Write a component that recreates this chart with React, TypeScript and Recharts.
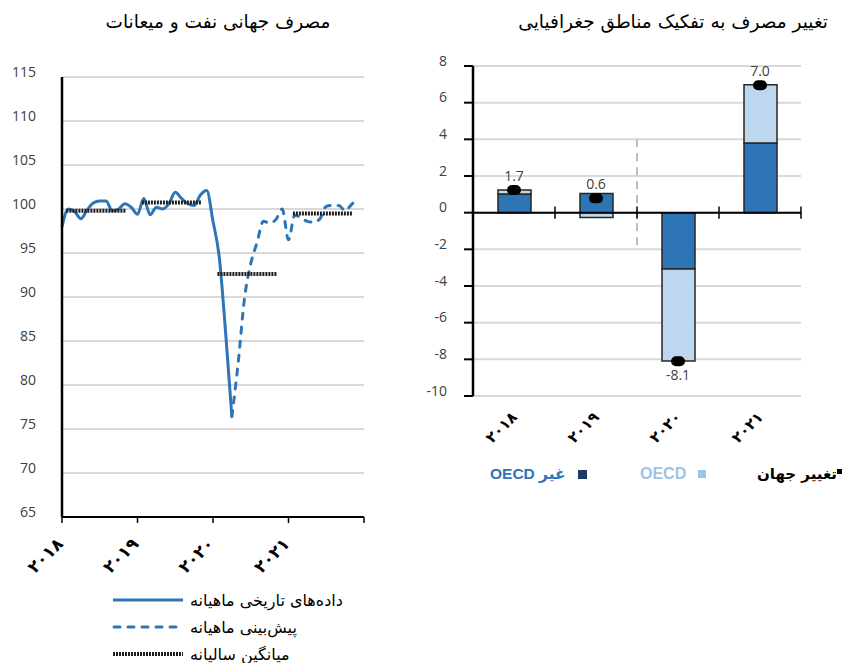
import React from 'react';
import {
  ComposedChart,
  Line,
  Bar,
  XAxis,
  YAxis,
  CartesianGrid,
  ReferenceLine,
  LabelList,
} from 'recharts';

// left panel: monthly world oil demand index
const histValues = [
  98.0, 100.0, 99.7, 98.9, 99.9, 100.7, 100.9, 100.9, 99.8, 100.0, 100.6, 100.2,
  99.4, 101.2, 99.35, 100.2, 100.0, 100.6, 101.9, 101.2, 100.6, 100.4, 101.6, 102.1,
  98.6, 94.5, 86.0, 76.4,
];
const forecastValues = [
  76.4, 82.5, 89.8, 93.8, 96.2, 98.6, 98.4, 98.8, 100.0, 96.5, 99.3, 99.0,
  98.6, 98.5, 98.9, 100.3, 100.4, 100.4, 99.8, 100.5, 101.2,
];
const forecastStart = 27;
const avgValues = [99.8, 100.75, 92.6, 99.5];
const leftYearTicks = ['۲۰۱۸', '۲۰۱۹', '۲۰۲۰', '۲۰۲۱', ''];
const leftYTicks = [65, 70, 75, 80, 85, 90, 95, 100, 105, 110, 115];

// right panel: change by region
const years = ['۲۰۱۸', '۲۰۱۹', '۲۰۲۰', '۲۰۲۱'];
const nonOecd = [1.02, 1.05, -3.07, 3.8];
const oecd = [0.22, -0.27, -5.02, 3.18];
const world = [1.24, 0.78, -8.1, 6.95];
const worldLabels = ['1.7', '0.6', '-8.1', '7.0'];
const rightYTicks = [-10, -8, -6, -4, -2, 0, 2, 4, 6, 8];

const BLUE = '#2e75b6';
const LIGHT = '#bdd7ee';
const GRID = '#d9d9d9';
const NUM_FONT = "'Open Sans', sans-serif";
const FA_FONT = "'DejaVu Sans', sans-serif";

const monthly = Array.from({ length: 48 }, (_, i) => ({
  m: i,
  hist: i < histValues.length ? histValues[i] : null,
  fcst: i >= forecastStart ? forecastValues[i - forecastStart] : null,
}));

const avgSeries = avgValues.map((v, k) => [
  { m: k * 12 + 0.7, avg: v },
  { m: k * 12 + 10.1, avg: v },
]);

const regional = years.map((y, i) => ({
  year: y,
  pos: i + 0.5,
  nonOecd: nonOecd[i],
  oecd: oecd[i],
  world: world[i],
}));

const YTick = (props: any) => {
  const { x, y, payload } = props;
  return (
    <text x={x} y={y} dy={-4} textAnchor="end" dominantBaseline="middle" fill="#404040" fontSize={14} fontFamily={NUM_FONT}>
      {payload.value}
    </text>
  );
};

const LeftXTick = (props: any) => {
  const { x, y, payload } = props;
  const label = leftYearTicks[payload.value / 12];
  return (
    <g transform={`translate(${x + 2},${y + 22})`}>
      <text transform="rotate(-45)" textAnchor="end" fill="#000" fontSize={17} fontWeight="bold" fontFamily={FA_FONT}>
        {label}
      </text>
    </g>
  );
};

const RightXTick = (props: any) => {
  const { x, y, payload } = props;
  return (
    <g transform={`translate(${x + 4},${y + 22})`}>
      <text transform="rotate(-45)" textAnchor="end" fill="#000" fontSize={15} fontWeight="bold" fontFamily={FA_FONT}>
        {payload.value}
      </text>
    </g>
  );
};

const Marker = (p: any) => (
  <rect key={`mk-${p.index}`} x={p.cx - 7} y={p.cy - 5} width={14} height={10} rx={5} fill="#000" />
);

const WorldLabel = (p: any) => {
  const { x, y, index } = p;
  const below = world[index] < 0;
  return (
    <text x={x} y={below ? y + 15 : y - 13} textAnchor="middle" dominantBaseline="middle" fill="#404040" fontSize={14} fontFamily={NUM_FONT}>
      {worldLabels[index]}
    </text>
  );
};

const legendRow = (kind: 'solid' | 'dash' | 'avg', text: string, top: number) => (
  <div key={text} style={{ position: 'absolute', left: 112, top, display: 'flex', alignItems: 'center', height: 20 }}>
    <svg width={72} height={8}>
      {kind === 'solid' && <line x1={1} y1={4} x2={71} y2={4} stroke={BLUE} strokeWidth={3} />}
      {kind === 'dash' && (
        <line x1={2} y1={4} x2={70} y2={4} stroke={BLUE} strokeWidth={3} strokeDasharray="6 8" strokeLinecap="round" />
      )}
      {kind === 'avg' && <line x1={1} y1={4} x2={71} y2={4} stroke="#1e1e1e" strokeWidth={4} strokeDasharray="2 1" />}
    </svg>
    <span dir="rtl" style={{ marginLeft: 6, fontSize: 16, fontFamily: FA_FONT, color: '#000' }}>{text}</span>
  </div>
);

export default function App() {
  return (
    <div style={{ position: 'absolute', left: 0, top: 0, width: 844, height: 663, overflow: 'hidden', background: '#fff' }}>
      <div dir="rtl" style={{ position: 'absolute', left: 0, width: 436, top: 11, textAlign: 'center', fontSize: 18.5, fontFamily: FA_FONT, color: '#000' }}>
        مصرف جهانی نفت و میعانات
      </div>
      <div dir="rtl" style={{ position: 'absolute', right: 16, top: 11, fontSize: 18.5, fontFamily: FA_FONT, color: '#000' }}>
        تغییر مصرف به تفکیک مناطق جغرافیایی
      </div>

      <div style={{ position: 'absolute', left: 0, top: 0 }}>
        <ComposedChart width={380} height={580} data={monthly} margin={{ top: 77, right: 16, bottom: 0, left: 0 }}>
          <CartesianGrid vertical={false} stroke={GRID} strokeWidth={2} />
          <XAxis
            dataKey="m"
            type="number"
            domain={[0, 48]}
            ticks={[0, 12, 24, 36, 48]}
            axisLine={{ stroke: '#000', strokeWidth: 2 }}
            tickLine={{ stroke: '#000', strokeWidth: 1.5 }}
            tickSize={6}
            tickMargin={0}
            height={63}
            tick={<LeftXTick />}
            interval={0}
          />
          <YAxis
            domain={[65, 115]}
            ticks={leftYTicks}
            width={62}
            axisLine={{ stroke: '#000', strokeWidth: 2.5 }}
            tickLine={false}
            tickSize={6}
            tickMargin={20}
            tick={<YTick />}
            interval={0}
          />
          <Line dataKey="hist" type="monotone" stroke={BLUE} strokeWidth={3} dot={false} isAnimationActive={false} />
          <Line
            dataKey="fcst"
            type="monotone"
            stroke={BLUE}
            strokeWidth={3}
            strokeDasharray="6 8"
            strokeLinecap="round"
            dot={false}
            isAnimationActive={false}
          />
          {avgSeries.map((d, k) => (
            <Line
              key={k}
              data={d}
              dataKey="avg"
              stroke="#1e1e1e"
              strokeWidth={4}
              strokeDasharray="2 1"
              dot={false}
              isAnimationActive={false}
            />
          ))}
        </ComposedChart>
      </div>

      {legendRow('solid', 'داده‌های تاریخی ماهیانه', 590)}
      {legendRow('dash', 'پیش‌بینی ماهیانه', 617)}
      {legendRow('avg', 'میانگین سالیانه', 644)}

      <div style={{ position: 'absolute', left: 420, top: 0 }}>
        <ComposedChart
          width={400}
          height={460}
          data={regional}
          stackOffset="sign"
          margin={{ top: 66, right: 19, bottom: 0, left: 0 }}
        >
          <CartesianGrid vertical={false} stroke={GRID} strokeWidth={2} />
          <XAxis dataKey="year" axisLine={false} tickLine={false} tickSize={0} tickMargin={0} height={64} tick={<RightXTick />} interval={0} />
          <XAxis xAxisId="pos" dataKey="pos" type="number" domain={[0, 4]} allowDataOverflow hide />
          <YAxis
            domain={[-10, 8]}
            ticks={rightYTicks}
            width={53}
            axisLine={{ stroke: '#000', strokeWidth: 2.5 }}
            tickLine={{ stroke: '#000', strokeWidth: 2 }}
            tickSize={9}
            tickMargin={17}
            tick={<YTick />}
            interval={0}
          />
          <ReferenceLine
            xAxisId="pos"
            segment={[{ x: 2, y: 4 }, { x: 2, y: -2 }]}
            stroke="#a6a6a6"
            strokeWidth={1.5}
            strokeDasharray="8 6"
          />
          <Bar dataKey="nonOecd" stackId="a" fill={BLUE} stroke="#262626" strokeWidth={1.5} barSize={33} isAnimationActive={false} />
          <Bar dataKey="oecd" stackId="a" fill={LIGHT} stroke="#262626" strokeWidth={1.5} barSize={33} isAnimationActive={false} />
          <ReferenceLine y={0} stroke="#000" strokeWidth={2} />
          {[1, 2, 3, 4].map((b) => (
            <ReferenceLine key={b} xAxisId="pos" segment={[{ x: b, y: -0.33 }, { x: b, y: 0.33 }]} stroke="#000" strokeWidth={1.5} />
          ))}
          <Line dataKey="world" stroke="none" dot={Marker} activeDot={false} isAnimationActive={false}>
            <LabelList dataKey="world" content={<WorldLabel />} />
          </Line>
        </ComposedChart>
      </div>

      <div style={{ position: 'absolute', left: 490, top: 465, display: 'flex', alignItems: 'center', fontWeight: 'bold', fontSize: 15.5 }}>
        <span dir="rtl" style={{ color: BLUE, fontFamily: "'Liberation Sans', 'DejaVu Sans', sans-serif" }}>غیر OECD</span>
        <span style={{ display: 'inline-block', width: 9, height: 9, background: '#1f3864', marginLeft: 12 }} />
      </div>
      <div style={{ position: 'absolute', left: 640, top: 465, display: 'flex', alignItems: 'center', fontWeight: 'bold', fontSize: 16 }}>
        <span style={{ color: '#9dc3e6', fontFamily: "'Liberation Sans', sans-serif" }}>OECD</span>
        <span style={{ display: 'inline-block', width: 8, height: 8, background: '#9dc3e6', marginLeft: 12 }} />
      </div>
      <div style={{ position: 'absolute', right: 2, top: 465, display: 'flex', alignItems: 'flex-start', fontWeight: 'bold', fontSize: 15 }}>
        <span dir="rtl" style={{ color: '#000', fontFamily: FA_FONT }}>تغییر جهان</span>
        <span style={{ display: 'inline-block', width: 5, height: 5, background: '#000', marginTop: 4 }} />
      </div>
    </div>
  );
}
